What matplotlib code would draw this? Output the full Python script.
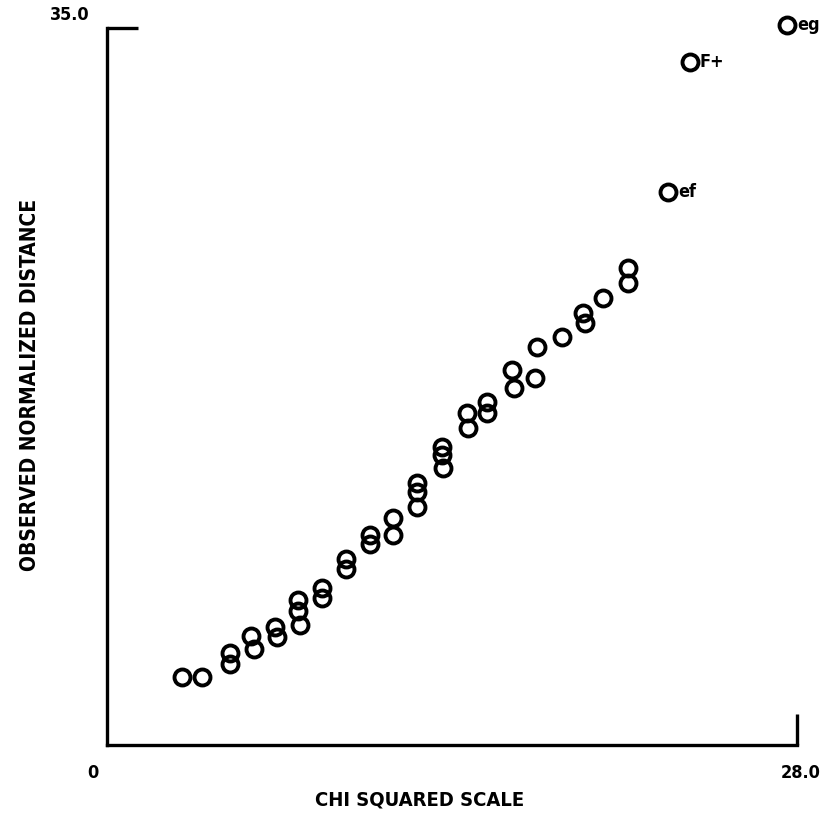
import numpy as np
import matplotlib.pyplot as plt

# chi-squared quantiles vs observed normalized distance
chi_sq = [3.03, 3.84, 4.99, 4.99, 5.84, 5.97, 6.82, 6.90, 7.75, 7.75, 7.83,
          8.72, 8.72, 9.70, 9.70, 10.67, 10.67, 11.61, 11.61, 12.58, 12.58,
          12.58, 13.60, 13.60, 13.64, 14.61, 14.65, 15.42, 15.42, 16.44,
          16.52, 17.37, 17.45, 18.47, 19.32, 19.40, 20.13, 21.14, 21.14]
observed = [3.33, 3.33, 4.49, 3.95, 5.32, 4.69, 5.76, 5.27, 7.08, 6.54, 5.86,
            7.66, 7.17, 9.08, 8.59, 10.25, 9.81, 11.08, 10.25, 12.79, 12.35,
            11.62, 14.54, 14.15, 13.52, 16.20, 15.47, 16.74, 16.20, 18.30,
            17.42, 17.91, 19.42, 19.91, 21.08, 20.60, 21.82, 23.28, 22.55]

# labelled outliers
out_x = [22.77, 23.66, 27.60]
out_y = [26.99, 33.33, 35.14]
out_lab = ["ef", "F+", "eg"]

txt = dict(fontweight="bold", family="DejaVu Sans", fontstretch="condensed")

fig = plt.figure(figsize=(8.26, 8.15), dpi=100)
ax = fig.add_axes([0.1295, 0.0859, 0.8354, 0.8797])

ax.plot(chi_sq, observed, "o", mfc="none", mec="black", ms=11.5, mew=2.8,
        clip_on=False)
ax.plot(out_x, out_y, "o", mfc="none", mec="black", ms=11.5, mew=2.8,
        clip_on=False)
for x, y, s in zip(out_x, out_y, out_lab):
    ax.annotate(s, (x, y), xytext=(7, 0), textcoords="offset points",
                va="center", ha="left", fontsize=13, annotation_clip=False,
                **txt)

ax.set_xlim(0, 28)
ax.set_ylim(0, 35)
for s in ["top", "right"]:
    ax.spines[s].set_visible(False)
for s in ["left", "bottom"]:
    ax.spines[s].set_linewidth(2.4)

ax.set_xticks([28])
ax.set_yticks([35])
ax.tick_params(direction="in", length=22, width=2.4,
               labelbottom=False, labelleft=False)

# axis end labels
fig.text(0.108, 0.982, "35.0", ha="right", va="center", fontsize=13, **txt)
fig.text(0.113, 0.052, "0", ha="center", va="center", fontsize=13, **txt)
fig.text(0.969, 0.052, "28.0", ha="center", va="center", fontsize=13, **txt)

fig.text(0.508, 0.018, "CHI SQUARED SCALE", ha="center", va="center",
         fontsize=14.5, **txt)
fig.text(0.036, 0.528, "OBSERVED NORMALIZED DISTANCE", ha="center",
         va="center", rotation=90, fontsize=15, **txt)

plt.savefig("out.png")
